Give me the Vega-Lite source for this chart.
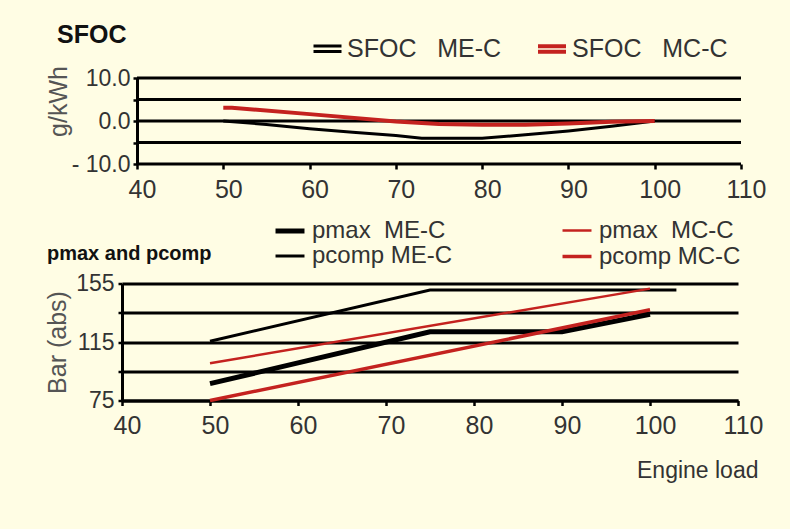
{
  "$schema": "https://vega.github.io/schema/vega-lite/v6.json",
  "background": "#FFFDE4",
  "padding": {"left": 45, "top": 23, "right": 60, "bottom": 80},
  "columns": 1,
  "spacing": 14.5,
  "resolve": {
    "scale": {"color": "independent", "strokeWidth": "independent", "x": "independent", "y": "independent"},
    "legend": {"color": "independent", "strokeWidth": "independent"}
  },
  "datasets": {
    "sfoc": [
      {"load": 50, "value": 0, "series": "SFOC\u00a0\u00a0\u00a0ME-C"},
      {"load": 55, "value": -0.8, "series": "SFOC\u00a0\u00a0\u00a0ME-C"},
      {"load": 60, "value": -1.8, "series": "SFOC\u00a0\u00a0\u00a0ME-C"},
      {"load": 65, "value": -2.6, "series": "SFOC\u00a0\u00a0\u00a0ME-C"},
      {"load": 70, "value": -3.4, "series": "SFOC\u00a0\u00a0\u00a0ME-C"},
      {"load": 73, "value": -4, "series": "SFOC\u00a0\u00a0\u00a0ME-C"},
      {"load": 80, "value": -4, "series": "SFOC\u00a0\u00a0\u00a0ME-C"},
      {"load": 85, "value": -3.2, "series": "SFOC\u00a0\u00a0\u00a0ME-C"},
      {"load": 90, "value": -2.3, "series": "SFOC\u00a0\u00a0\u00a0ME-C"},
      {"load": 95, "value": -1.2, "series": "SFOC\u00a0\u00a0\u00a0ME-C"},
      {"load": 100, "value": 0, "series": "SFOC\u00a0\u00a0\u00a0ME-C"},
      {"load": 50, "value": 3.1, "series": "SFOC\u00a0\u00a0\u00a0MC-C"},
      {"load": 51, "value": 3.1, "series": "SFOC\u00a0\u00a0\u00a0MC-C"},
      {"load": 60, "value": 1.6, "series": "SFOC\u00a0\u00a0\u00a0MC-C"},
      {"load": 70, "value": -0.1, "series": "SFOC\u00a0\u00a0\u00a0MC-C"},
      {"load": 75, "value": -0.7, "series": "SFOC\u00a0\u00a0\u00a0MC-C"},
      {"load": 80, "value": -0.9, "series": "SFOC\u00a0\u00a0\u00a0MC-C"},
      {"load": 85, "value": -0.9, "series": "SFOC\u00a0\u00a0\u00a0MC-C"},
      {"load": 90, "value": -0.6, "series": "SFOC\u00a0\u00a0\u00a0MC-C"},
      {"load": 95, "value": -0.2, "series": "SFOC\u00a0\u00a0\u00a0MC-C"},
      {"load": 100, "value": 0, "series": "SFOC\u00a0\u00a0\u00a0MC-C"}
    ],
    "sfocgrid": [
      {"value": -10}, {"value": -5}, {"value": 0}, {"value": 5}, {"value": 10}
    ],
    "press": [
      {"load": 50, "value": 86.5, "series": "pmax\u00a0\u00a0ME-C"},
      {"load": 75, "value": 122, "series": "pmax\u00a0\u00a0ME-C"},
      {"load": 90, "value": 122, "series": "pmax\u00a0\u00a0ME-C"},
      {"load": 100, "value": 134, "series": "pmax\u00a0\u00a0ME-C"},
      {"load": 50, "value": 115.5, "series": "pcomp\u00a0ME-C"},
      {"load": 75, "value": 150.5, "series": "pcomp\u00a0ME-C"},
      {"load": 103, "value": 150.5, "series": "pcomp\u00a0ME-C"},
      {"load": 50, "value": 100.5, "series": "pmax\u00a0\u00a0MC-C"},
      {"load": 100, "value": 151.5, "series": "pmax\u00a0\u00a0MC-C"},
      {"load": 50, "value": 75, "series": "pcomp\u00a0MC-C"},
      {"load": 100, "value": 137, "series": "pcomp\u00a0MC-C"}
    ]
  },
  "concat": [
    {
      "width": 619,
      "height": 86,
      "title": {"text": "SFOC", "anchor": "start", "dx": -65, "offset": -15, "fontSize": 25, "fontWeight": "bold", "color": "#111"},
      "layer": [
        {
          "data": {"name": "sfocgrid"},
          "mark": {"type": "rule", "color": "#000000", "strokeWidth": 3},
          "encoding": {
            "y": {
              "field": "value", "type": "quantitative",
              "scale": {"domain": [-10, 10], "nice": false},
              "axis": {
                "values": [-10, -5, 0, 5, 10], "offset": -15,
                "labelExpr": "datum.value == 10 ? '10.0' : datum.value == 0 ? '0.0' : datum.value == -10 ? '- 10.0' : ''",
                "title": "g/kWh", "titleY": 23, "titlePadding": 0,
                "labelFontSize": 23, "labelPadding": 3, "tickSize": 4, "grid": false
              }
            },
            "x": {"datum": 40},
            "x2": {"datum": 110}
          }
        },
        {
          "data": {"name": "sfoc"},
          "mark": {"type": "line"},
          "encoding": {
            "x": {
              "field": "load", "type": "quantitative",
              "scale": {"domain": [40, 110], "range": [15, 619], "nice": false, "zero": false},
              "axis": {"values": [40, 50, 60, 70, 80, 90, 100, 110], "title": null, "grid": false, "domain": false, "labelFlush": false, "labelOffset": 5, "labelFontSize": 25, "labelPadding": 8, "tickSize": 5}
            },
            "y": {
              "field": "value", "type": "quantitative",
              "scale": {"domain": [-10, 10], "nice": false},
              "axis": {
                "values": [-10, -5, 0, 5, 10], "offset": -15,
                "labelExpr": "datum.value == 10 ? '10.0' : datum.value == 0 ? '0.0' : datum.value == -10 ? '- 10.0' : ''",
                "title": "g/kWh", "titleY": 23, "titlePadding": 0,
                "labelFontSize": 23, "labelPadding": 3, "tickSize": 4, "grid": false
              }
            },
            "color": {
              "field": "series", "type": "nominal",
              "scale": {"domain": ["SFOC\u00a0\u00a0\u00a0ME-C", "SFOC\u00a0\u00a0\u00a0MC-C"], "range": ["#000000", "#C4221F"]},
              "legend": {"orient": "none", "legendX": 190, "legendY": -45, "direction": "horizontal", "symbolType": "M-1,-0.2H1M-1,0.2H1", "symbolSize": 784, "symbolStrokeWidth": 2.5, "labelOffset": 4, "columnPadding": 28, "labelFontSize": 25}
            },
            "strokeWidth": {
              "field": "series", "type": "nominal",
              "scale": {"type": "ordinal", "domain": ["SFOC\u00a0\u00a0\u00a0ME-C", "SFOC\u00a0\u00a0\u00a0MC-C"], "range": [3, 4]},
              "legend": null
            }
          }
        }
      ]
    },
    {
      "width": 616,
      "height": 117,
      "title": {"text": "pmax and pcomp", "anchor": "start", "dx": -75, "offset": -46.5, "fontSize": 20, "fontWeight": "bold", "color": "#111"},
      "data": {"name": "press"},
      "mark": {"type": "line"},
      "encoding": {
        "x": {
          "field": "load", "type": "quantitative",
          "scale": {"domain": [40, 110], "nice": false, "zero": false},
          "axis": {"values": [40, 50, 60, 70, 80, 90, 100, 110], "title": "Engine load", "titleX": 636, "titleAlign": "right", "titleAnchor": "end", "titleFontSize": 23, "titleFontWeight": "normal", "titleColor": "#333", "titlePadding": 21, "grid": false, "labelFlush": false, "labelOffset": 5, "labelFontSize": 25, "labelPadding": 8, "tickSize": 5}
        },
        "y": {
          "field": "value", "type": "quantitative",
          "scale": {"domain": [75, 155], "nice": false, "zero": false},
          "axis": {
            "values": [75, 95, 115, 135, 155],
            "labelExpr": "datum.value % 40 == 35 ? datum.label : ''",
            "title": "Bar (abs)", "titlePadding": 5,
            "labelFontSize": 23, "labelPadding": 4, "tickSize": 4, "grid": true
          }
        },
        "color": {
          "field": "series", "type": "nominal",
          "scale": {"domain": ["pmax\u00a0\u00a0ME-C", "pcomp\u00a0ME-C", "pmax\u00a0\u00a0MC-C", "pcomp\u00a0MC-C"], "range": ["#000000", "#000000", "#C4221F", "#C4221F"]},
          "legend": {"orient": "none", "legendX": 154, "legendY": -66.5, "columns": 2, "symbolType": "M-1.26,0H1.26", "symbolSize": 529, "labelOffset": 8, "columnPadding": 102, "rowPadding": -1, "labelFontSize": 24}
        },
        "strokeWidth": {
          "field": "series", "type": "nominal",
          "scale": {"type": "ordinal", "domain": ["pmax\u00a0\u00a0ME-C", "pcomp\u00a0ME-C", "pmax\u00a0\u00a0MC-C", "pcomp\u00a0MC-C"], "range": [5, 3, 2.5, 3.5]}
        }
      }
    }
  ],
  "config": {
    "font": "Liberation Sans",
    "view": {"stroke": null},
    "axis": {
      "labelFont": "Liberation Sans", "labelColor": "#333",
      "titleFont": "Liberation Sans", "titleFontSize": 25, "titleFontWeight": "normal", "titleColor": "#555",
      "domainColor": "#000", "domainWidth": 3,
      "tickColor": "#000", "tickWidth": 2.5,
      "gridColor": "#000", "gridWidth": 3, "gridOpacity": 1
    },
    "legend": {"title": null, "padding": 0, "labelFont": "Liberation Sans", "labelColor": "#333", "labelLimit": 0},
    "title": {"font": "Liberation Sans", "frame": "group"}
  }
}
